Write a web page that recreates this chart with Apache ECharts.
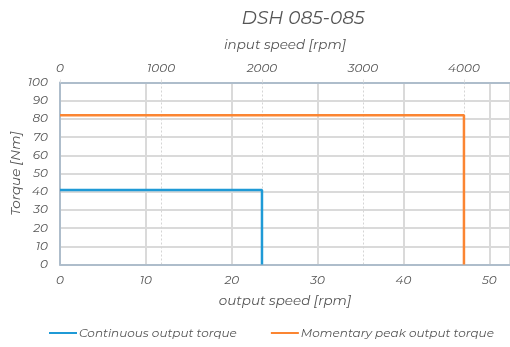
<!DOCTYPE html>
<html>
<head>
<meta charset="utf-8">
<script src="https://cdn.jsdelivr.net/npm/echarts@6/dist/echarts.min.js"></script>
<style>html,body{margin:0;padding:0;background:#fff}#c{width:510px;height:347px}</style>
</head>
<body>
<div id="c"></div>
<script>
// Data (x values in input speed [rpm], y in Nm)
const titleText = 'DSH 085-085';
const seriesNames = ['Continuous output torque', 'Momentary peak output torque'];
const contInputSpeed = [0, 2000, 2000];
const contTorque = [41, 41, 0];
const peakInputSpeed = [0, 4000, 4000];
const peakTorque = [82, 82, 0];
const outputSpeedMax = 52.4;   // bottom axis max [rpm]
const inputSpeedMax = 4456;    // top axis max [rpm]
const torqueTicks = [0, 100, 10];

const font = 'Montserrat, "Open Sans", "DejaVu Sans", sans-serif';
const txt = '#555';
const axisCol = '#aebdcb';
const gridCol = '#dadada';

const chart = echarts.init(document.getElementById('c'));
chart.setOption({
  animation: false,
  title: {
    text: titleText, left: 298, top: 4, textAlign: 'center',
    textStyle: {fontFamily: font, fontStyle: 'italic', fontWeight: 'normal', fontSize: 18.5, color: txt}
  },
  legend: {
    bottom: 3, left: 44, itemGap: 34, itemWidth: 28, itemHeight: 2,
    icon: 'rect',
    textStyle: {fontFamily: font, fontStyle: 'italic', fontSize: 12, color: txt, padding: [0,0,0,-3]},
    data: seriesNames
  },
  grid: {left: 60, right: 0, top: 82.5, bottom: 82.5, containLabel: false, outerBoundsMode: 'none'},
  xAxis: [{
    type: 'value', position: 'bottom', min: 0, max: outputSpeedMax, interval: 10,
    name: 'output speed [rpm]', nameLocation: 'middle', nameGap: 30, nameMoveOverlap: false,
    nameTextStyle: {fontFamily: font, fontStyle: 'italic', fontSize: 13.5, color: txt},
    axisLine: {show: true, lineStyle: {color: axisCol, width: 2}},
    axisTick: {show: false},
    axisLabel: {fontFamily: font, fontStyle: 'italic', fontSize: 12, color: txt, margin: 10, showMaxLabel: false},
    splitLine: {show: true, lineStyle: {color: gridCol, width: 2}}
  }, {
    type: 'value', position: 'top', min: 0, max: inputSpeedMax, interval: 1000,
    name: 'input speed [rpm]', nameLocation: 'middle', nameGap: 30, nameMoveOverlap: false,
    nameTextStyle: {fontFamily: font, fontStyle: 'italic', fontSize: 13.5, color: txt},
    axisLine: {show: true, lineStyle: {color: axisCol, width: 2}},
    axisTick: {show: true, length: 3, inside: false, lineStyle: {color: '#e0e0e0', width: 1}},
    axisLabel: {fontFamily: font, fontStyle: 'italic', fontSize: 12, color: txt, margin: 8, showMaxLabel: false,
      formatter: v => String(v)},
    splitLine: {show: true, lineStyle: {color: '#d5d5d5', width: 1, type: [2, 2]}}
  }],
  yAxis: {
    type: 'value', min: torqueTicks[0], max: torqueTicks[1], interval: torqueTicks[2],
    name: 'Torque [Nm]', nameLocation: 'middle', nameGap: 37, nameMoveOverlap: false,
    nameTextStyle: {fontFamily: font, fontStyle: 'italic', fontSize: 13.5, color: txt},
    axisLine: {show: true, lineStyle: {color: axisCol, width: 2}},
    axisTick: {show: false},
    axisLabel: {fontFamily: font, fontStyle: 'italic', fontSize: 12, color: txt, margin: 12},
    splitLine: {show: true, lineStyle: {color: gridCol, width: 2}}
  },
  series: [{
    name: seriesNames[0], type: 'line', xAxisIndex: 1, showSymbol: false,
    lineStyle: {color: '#1f9ad6', width: 2.5}, itemStyle: {color: '#1f9ad6'},
    data: contInputSpeed.map((x, i) => [x, contTorque[i]]), z: 5
  }, {
    name: seriesNames[1], type: 'line', xAxisIndex: 1, showSymbol: false,
    lineStyle: {color: '#fb8532', width: 2.5}, itemStyle: {color: '#fb8532'},
    data: peakInputSpeed.map((x, i) => [x, peakTorque[i]]), z: 5
  }]
});
</script>
</body>
</html>
